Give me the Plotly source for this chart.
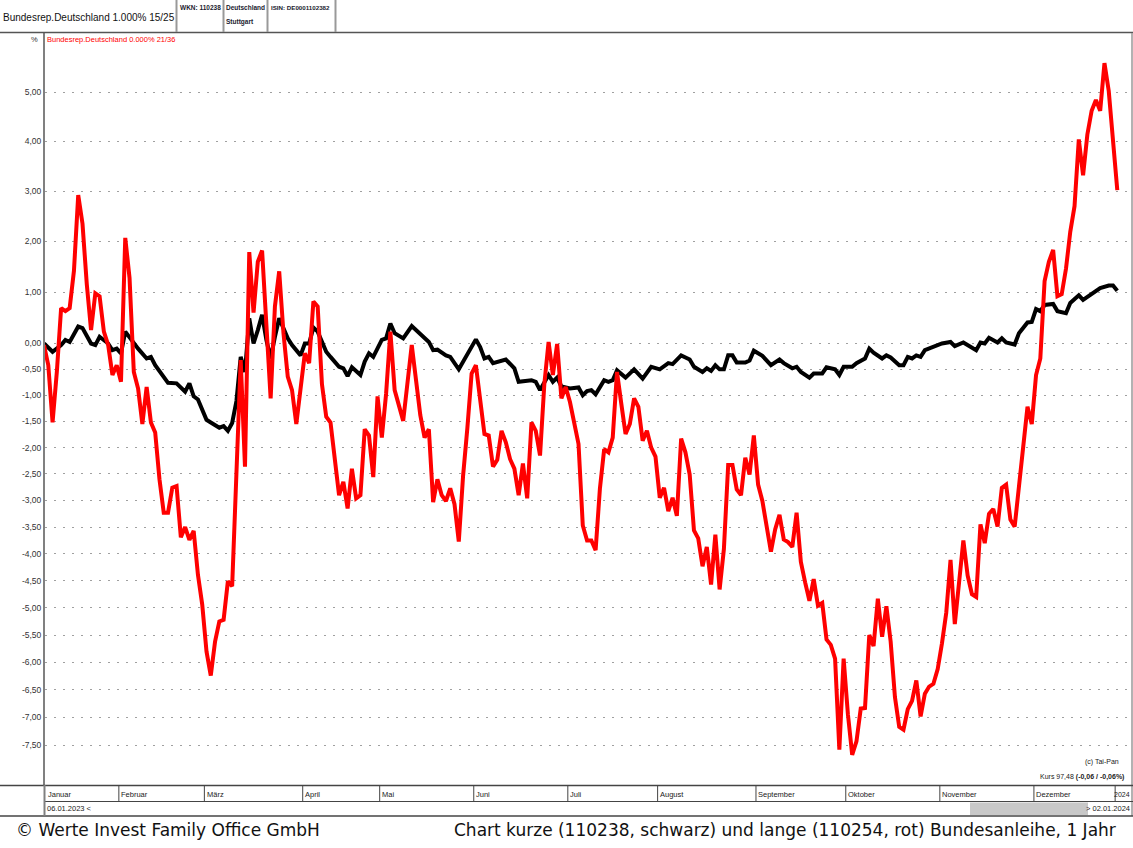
import numpy as np
import pandas as pd
import plotly.graph_objects as go

# ---------------- data ----------------
holidays = ["2023-04-07", "2023-04-10", "2023-05-01", "2023-12-25", "2023-12-26", "2024-01-01"]
trading_days = pd.bdate_range("2023-01-06", "2024-01-02")
trading_days = trading_days[~trading_days.isin(pd.to_datetime(holidays))]

month_names = ["Januar", "Februar", "März", "April", "Mai", "Juni", "Juli", "August",
               "September", "Oktober", "November", "Dezember", "2024"]

y_ticks = [5, 4, 3, 2, 1, 0, -0.5, -1, -1.5, -2, -2.5, -3, -3.5, -4, -4.5, -5,
           -5.5, -6, -6.5, -7, -7.5]

# short bond 110238 (black), % change; trading-day number -> value
black_day = [0, 2, 4, 5, 6, 8, 9, 11, 12, 13, 15, 16, 17, 18, 19, 21, 22, 24, 25, 26, 28, 29, 31, 33, 34,
             35, 36, 38, 39, 41, 42, 43, 44, 45, 46, 47, 48, 49, 50, 51, 52, 53, 54, 55, 57, 58, 60, 61,
             62, 63, 64, 66, 67, 69, 70, 71, 72, 74, 75, 76, 77, 79, 80, 81, 82, 84, 86, 88, 90, 91, 92,
             94, 95, 97, 99, 101, 102, 103, 104, 105, 108, 110, 111, 112, 114, 115, 116, 118, 119, 120,
             121, 123, 125, 126, 127, 128, 129, 131, 132, 133, 134, 136, 138, 140, 142, 144, 146, 147,
             149, 151, 152, 154, 155, 156, 157, 158, 159, 160, 161, 162, 164, 165, 166, 168, 170, 172,
             173, 175, 176, 177, 179, 180, 182, 183, 185, 186, 187, 189, 190, 192, 193, 194, 196, 197,
             198, 200, 201, 202, 203, 204, 205, 206, 208, 210, 212, 213, 215, 216, 218, 219, 220, 221,
             223, 224, 225, 227, 228, 230, 231, 232, 233, 234, 236, 237, 239, 240, 242, 243, 245, 247,
             249, 250, 251]
black_val = [0.0, -0.16, -0.03, 0.07, 0.03, 0.33, 0.30, 0.0, -0.03, 0.13, 0.0, -0.13, -0.10, -0.19, 0.23,
             0.0, -0.10, -0.29, -0.26, -0.42, -0.66, -0.76, -0.77, -0.93, -0.77, -1.02, -1.08, -1.47,
             -1.52, -1.62, -1.59, -1.68, -1.53, -1.11, -0.26, -0.55, 0.49, 0.0, 0.26, 0.56, 0.07, -0.29,
             0.13, 0.49, 0.10, -0.03, -0.23, 0.0, 0.0, 0.31, 0.23, -0.16, -0.26, -0.45, -0.48, -0.63,
             -0.46, -0.61, -0.35, -0.19, -0.26, 0.07, 0.10, 0.39, 0.20, 0.10, 0.34, 0.18, 0.03, -0.13,
             -0.12, -0.23, -0.26, -0.50, -0.19, 0.08, -0.07, -0.29, -0.26, -0.38, -0.31, -0.48, -0.74,
             -0.73, -0.71, -0.74, -0.90, -0.61, -0.74, -0.66, -0.83, -0.87, -0.85, -1.00, -0.92, -0.90,
             -0.98, -0.71, -0.74, -0.71, -0.52, -0.66, -0.50, -0.68, -0.45, -0.50, -0.38, -0.40, -0.23,
             -0.31, -0.45, -0.55, -0.48, -0.53, -0.42, -0.50, -0.50, -0.23, -0.23, -0.37, -0.37, -0.33,
             -0.14, -0.24, -0.42, -0.31, -0.38, -0.48, -0.45, -0.55, -0.66, -0.58, -0.58, -0.46, -0.50,
             -0.61, -0.45, -0.45, -0.38, -0.29, -0.10, -0.18, -0.29, -0.23, -0.27, -0.42, -0.42, -0.26,
             -0.29, -0.23, -0.26, -0.13, -0.07, 0.0, 0.03, -0.05, 0.02, -0.03, -0.13, 0.02, 0.0, 0.11,
             0.02, 0.10, 0.02, -0.02, 0.20, 0.41, 0.42, 0.67, 0.63, 0.75, 0.77, 0.63, 0.59, 0.79, 0.94,
             0.85, 0.96, 1.08, 1.13, 1.13, 1.03]

# long bond 110254 (red), % change
red_day = [0, 1, 2, 3, 4, 5, 6, 7, 8, 9, 10, 11, 12, 13, 14, 15, 16, 17, 18, 19, 20, 21, 22, 23, 24, 25,
           26, 27, 28, 29, 30, 31, 32, 33, 34, 35, 36, 37, 38, 39, 40, 41, 42, 43, 44, 45, 46, 47, 48, 49,
           50, 51, 52, 53, 54, 55, 56, 57, 58, 59, 61, 62, 63, 64, 65, 66, 67, 68, 69, 70, 71, 72, 73, 74,
           75, 76, 77, 78, 79, 80, 81, 82, 84, 86, 87, 88, 89, 90, 91, 92, 93, 94, 95, 96, 97, 98, 99,
           100, 101, 102, 103, 104, 105, 106, 107, 108, 109, 110, 111, 112, 113, 114, 115, 116, 117, 118,
           119, 120, 121, 122, 123, 125, 126, 127, 128, 129, 130, 131, 132, 133, 134, 135, 136, 137, 138,
           139, 140, 141, 142, 143, 144, 145, 146, 147, 148, 149, 150, 151, 152, 153, 154, 155, 156, 157,
           158, 159, 160, 161, 162, 163, 164, 165, 166, 167, 168, 170, 171, 172, 173, 174, 175, 176, 177,
           178, 179, 180, 181, 182, 183, 184, 185, 186, 187, 188, 189, 190, 191, 192, 193, 194, 195, 196,
           197, 198, 199, 200, 201, 202, 203, 204, 205, 206, 207, 208, 209, 210, 211, 212, 213, 215, 216,
           217, 218, 219, 220, 221, 222, 223, 224, 225, 226, 227, 228, 229, 230, 231, 232, 233, 234, 235,
           236, 237, 238, 239, 240, 241, 242, 243, 244, 245, 246, 247, 248, 249, 250, 251]
red_val = [-0.03, -0.42, -1.52, -0.55, 0.69, 0.63, 0.69, 1.42, 2.92, 2.35, 1.16, 0.26, 0.98, 0.92, 0.23,
           -0.03, -0.61, -0.42, -0.74, 2.07, 1.28, -0.55, -0.87, -1.55, -0.84, -1.52, -1.71, -2.60, -3.23,
           -3.23, -2.76, -2.73, -3.69, -3.50, -3.74, -3.57, -4.39, -4.94, -5.80, -6.24, -5.62, -5.25,
           -5.22, -4.51, -4.60, -2.42, -0.32, -2.36, 1.79, 0.60, 1.60, 1.82, 0.39, -1.06, 0.72, 1.41,
           0.20, -0.64, -0.90, -1.55, -0.19, -0.38, 0.82, 0.72, -0.79, -1.41, -1.52, -2.22, -2.90, -2.65,
           -3.15, -2.40, -2.96, -2.90, -1.65, -1.77, -2.56, -1.02, -1.81, -0.97, 0.23, -0.90, -1.49,
           -0.03, -0.79, -1.38, -1.81, -1.65, -3.03, -2.60, -2.90, -3.01, -2.77, -3.07, -3.77, -2.54,
           -1.63, -0.58, -0.42, -1.06, -1.74, -1.77, -2.36, -2.23, -1.68, -1.90, -2.22, -2.40, -2.90,
           -2.30, -2.96, -1.52, -1.68, -2.15, -0.79, 0.03, -0.61, -0.01, -1.06, -0.84, -1.13, -1.93,
           -3.47, -3.75, -3.75, -3.93, -2.78, -2.03, -2.09, -1.81, -0.55, -1.16, -1.74, -1.55, -1.06,
           -1.22, -1.87, -1.68, -2.00, -2.17, -2.95, -2.76, -3.20, -2.95, -3.29, -1.83, -2.09, -2.51,
           -3.56, -3.71, -4.23, -3.87, -4.57, -3.64, -4.66, -3.91, -2.33, -2.33, -2.79, -2.90, -2.19,
           -2.51, -1.77, -2.70, -3.01, -3.96, -3.54, -3.27, -3.73, -3.78, -3.87, -3.23, -4.15, -4.53,
           -4.87, -4.47, -4.96, -4.91, -5.58, -5.68, -5.93, -7.58, -5.93, -6.94, -7.67, -7.43, -6.84,
           -6.83, -5.50, -5.70, -4.83, -5.53, -4.97, -5.62, -6.63, -7.17, -7.22, -6.85, -6.70, -6.33,
           -6.98, -6.57, -6.44, -6.39, -6.12, -5.65, -5.09, -4.11, -5.30, -3.75, -4.40, -4.75, -4.80,
           -3.45, -3.80, -3.25, -3.16, -3.49, -2.76, -2.70, -3.36, -3.49, -2.76, -2.03, -1.22, -1.55,
           -0.61, -0.29, 1.22, 1.60, 1.83, 0.92, 0.96, 1.46, 2.19, 2.70, 4.04, 3.32, 4.14, 4.62, 4.84,
           4.62, 5.59, 5.02, 4.04, 3.02]

# ---------------- layout helpers ----------------
W, H = 1133, 848
L, R, T, B = 45, 1, 33, 63
PW, PH = W - L - R, H - T - B
X0, X1 = 0.23, 0.23 + PW / 4.276


def PX(px):
    return (px - L) / PW


def PY(py):
    return (H - B - py) / PH


def XD(t):
    return PX(L + (t - X0) * PW / (X1 - X0))


SANS = "Liberation Sans, Arial, sans-serif"

fig = go.Figure()
fig.add_trace(go.Scatter(x=black_day, y=100 + np.array(black_val), mode="lines",
                         line=dict(color="#000000", width=4), hoverinfo="skip", showlegend=False))
fig.add_trace(go.Scatter(x=red_day, y=100 + np.array(red_val), mode="lines",
                         line=dict(color="#ff0000", width=4), hoverinfo="skip", showlegend=False))


def fmt(v):
    return ("%.2f" % v).replace(".", ",")


fig.update_layout(
    width=W, height=H, margin=dict(l=L, r=R, t=T, b=B),
    paper_bgcolor="white", plot_bgcolor="white",
    xaxis=dict(range=[X0, X1], showgrid=False, zeroline=False, showticklabels=False,
               showline=False, fixedrange=True),
    yaxis=dict(type="log", range=[np.log10(91.79), np.log10(106.21)],
               tickvals=[100 + v for v in y_ticks], ticktext=[fmt(v) for v in y_ticks],
               tickfont=dict(family=SANS, size=8.5, color="#333333"),
               showgrid=True, gridcolor="#a0a0a0", gridwidth=1, griddash="2px,7px",
               zeroline=False, showline=True, linecolor="#808080", linewidth=2,
               ticks="", fixedrange=True),
    font=dict(family=SANS),
)

shapes = []
ann = []


def line(x0, y0, x1, y1, color="#808080", width=1):
    shapes.append(dict(type="line", xref="paper", yref="paper", x0=PX(x0), y0=PY(y0),
                       x1=PX(x1), y1=PY(y1), line=dict(color=color, width=width), layer="above"))


def text(x, y, s, size=10, color="#222222", anchor="left", family=SANS, bold=False):
    ann.append(dict(xref="paper", yref="paper", x=PX(x), y=PY(y), text=("<b>%s</b>" % s) if bold else s,
                    showarrow=False, xanchor=anchor, yanchor="middle",
                    font=dict(family=family, size=size, color=color), borderpad=0))


# header
line(0, 32.5, W, 32.5, "#555555", 1.5)
for xv in [176.5, 223.5, 267.5, 335.5]:
    line(xv, 0, xv, 32, "#999999", 2)
text(2, 17, "Bundesrep.Deutschland 1.000% 15/25", size=10, color="#111111")
text(179, 7, "WKN: 110238", size=6.5, color="#1a1a2e", bold=True)
text(225, 7, "Deutschland", size=6.5, color="#1a1a2e", bold=True)
text(225, 22, "Stuttgart", size=6.5, color="#1a1a2e", bold=True)
text(269.5, 7, "ISIN: DE0001102382", size=6.2, color="#1a1a2e", bold=True)
text(39, 40, "%", size=7.5, color="#333333", anchor="right")
text(46, 40, "Bundesrep.Deutschland 0.000% 21/36", size=7.5, color="#ff0000")

# right border
line(1132, 33, 1132, 816, "#999999", 1.5)
# bottom strips
line(0, 785.5, W, 785.5, "#444444", 1.5)
line(44, 801.5, W, 801.5, "#444444", 1)
line(0, 816, W, 816, "#444444", 1.5)
line(44.5, 785, 44.5, 816, "#808080", 2)

# month row
starts = [0]
for i in range(1, len(trading_days)):
    if trading_days[i].month != trading_days[i - 1].month:
        starts.append(i)
last = len(month_names) - 1
for k, (s, name) in enumerate(zip(starts, month_names)):
    xpos = XD(s - 0.5) if k > 0 else PX(45)
    if k > 0:
        shapes.append(dict(type="line", xref="paper", yref="paper", x0=xpos, x1=xpos,
                           y0=PY(785.5), y1=PY(801.5), line=dict(color="#444444", width=1)))
    if k == last:
        ann.append(dict(xref="paper", yref="paper", x=PX(1131), y=PY(794), text=name,
                        showarrow=False, xanchor="right", yanchor="middle", borderpad=0,
                        font=dict(family=SANS, size=7, color="#222222")))
    else:
        ann.append(dict(xref="paper", yref="paper", x=xpos, y=PY(794), xshift=1.5, text=name,
                        showarrow=False, xanchor="left", yanchor="middle", borderpad=0,
                        font=dict(family=SANS, size=7.5, color="#222222")))

# date row and scrollbar
text(46, 808.5, trading_days[0].strftime("%d.%m.%Y") + " &lt;", size=7.5, color="#222222")
shapes.append(dict(type="rect", xref="paper", yref="paper", x0=PX(970), x1=PX(1088),
                   y0=PY(802.5), y1=PY(815), fillcolor="#c8c8c8", line=dict(width=0)))
text(1131, 808.5, "&gt; " + trading_days[-1].strftime("%d.%m.%Y"), size=7.5, color="#222222", anchor="right")

# plot corner texts
text(1120, 762, "(c) Tai-Pan", size=7, color="#222222", anchor="right")
text(1125, 777, "Kurs 97,48 <b>(-0,06 / -0,06%)</b>", size=7, color="#222222", anchor="right")

# footer
text(15, 829.5, "© Werte Invest Family Office GmbH", size=17, color="#111111", family="DejaVu Sans")
text(1117, 829.5, "Chart kurze (110238, schwarz) und lange (110254, rot) Bundesanleihe, 1 Jahr",
     size=17, color="#111111", family="DejaVu Sans", anchor="right")

fig.update_layout(shapes=shapes, annotations=ann)
fig.write_html("out.html")
